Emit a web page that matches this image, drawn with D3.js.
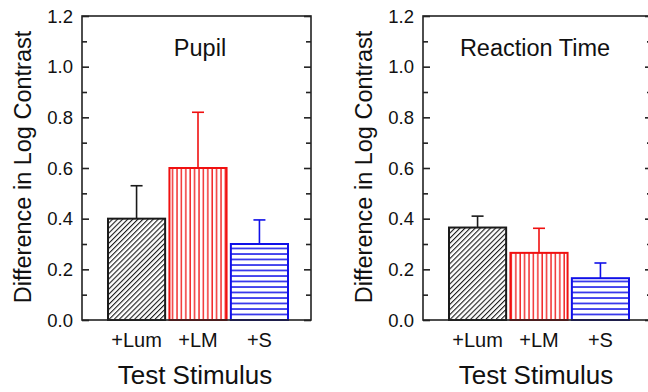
<!DOCTYPE html>
<html><head><meta charset="utf-8">
<script src="https://cdn.jsdelivr.net/npm/d3@7"></script>
<style>body{margin:0;background:#fff}svg{display:block}text{font-family:"Liberation Sans",Arial,sans-serif;fill:#111}</style>
</head><body><svg id="c" width="648" height="392"></svg>
<script>
const categories = ["+Lum", "+LM", "+S"];
const panelTitles = ["Pupil", "Reaction Time"];
const pupilValues = [0.40, 0.60, 0.30];
const pupilErrors = [0.13, 0.22, 0.095];
const rtValues = [0.365, 0.265, 0.165];
const rtErrors = [0.045, 0.097, 0.06];
const yTicks = [0.0, 0.2, 0.4, 0.6, 0.8, 1.0, 1.2];
const yMinorTicks = [0.1, 0.3, 0.5, 0.7, 0.9, 1.1];
const colors = ["#1a1a1a", "#f01010", "#1010e8"];
const xTitle = "Test Stimulus";
const yTitle = "Difference in Log Contrast";

const svg = d3.select("#c");
const defs = svg.append("defs");
const p0 = defs.append("pattern").attr("id","pat0").attr("patternUnits","userSpaceOnUse")
  .attr("width",3.6).attr("height",3.6).attr("patternTransform","rotate(45)");
p0.append("rect").attr("width",3.6).attr("height",3.6).attr("fill","#fff");
p0.append("line").attr("x1",0).attr("y1",0).attr("x2",0).attr("y2",3.6).attr("stroke",colors[0]).attr("stroke-width",2.2);
const p1 = defs.append("pattern").attr("id","pat1").attr("patternUnits","userSpaceOnUse")
  .attr("width",4.4).attr("height",10);
p1.append("rect").attr("width",4.4).attr("height",10).attr("fill","#fff");
p1.append("line").attr("x1",1).attr("y1",0).attr("x2",1).attr("y2",10).attr("stroke",colors[1]).attr("stroke-width",1.3);
const p2 = defs.append("pattern").attr("id","pat2").attr("patternUnits","userSpaceOnUse")
  .attr("width",10).attr("height",5.5);
p2.append("rect").attr("width",10).attr("height",5.5).attr("fill","#fff");
p2.append("line").attr("x1",0).attr("y1",1).attr("x2",10).attr("y2",1).attr("stroke",colors[2]).attr("stroke-width",1.5);

const plotTop = 16, plotBottom = 320, pw = 229;
const y = d3.scaleLinear().domain([0,1.2]).range([plotBottom, plotTop]);

function panel(x0, title, vals, errs, titleX) {
  const g = svg.append("g");
  const x = d3.scaleBand().domain(categories).range([x0+26, x0+206]).paddingInner(0.07).paddingOuter(0);
  categories.forEach((c,i)=>{
    const bx = x(c), bw = x.bandwidth();
    g.append("rect").attr("x",bx).attr("y",y(vals[i])).attr("width",bw).attr("height",y(0)-y(vals[i]))
      .attr("fill",`url(#pat${i})`).attr("stroke",colors[i]).attr("stroke-width",2);
    const cx = bx + bw/2;
    g.append("line").attr("x1",cx).attr("x2",cx).attr("y1",y(vals[i])).attr("y2",y(vals[i]+errs[i]))
      .attr("stroke",colors[i]).attr("stroke-width",1.6);
    g.append("line").attr("x1",cx-6).attr("x2",cx+6).attr("y1",y(vals[i]+errs[i])).attr("y2",y(vals[i]+errs[i]))
      .attr("stroke",colors[i]).attr("stroke-width",1.6);
    g.append("text").attr("x",cx).attr("y",347).attr("text-anchor","middle").attr("font-size",20).text(c);
  });
  g.append("rect").attr("x",x0).attr("y",plotTop).attr("width",pw).attr("height",plotBottom-plotTop)
    .attr("fill","none").attr("stroke","#222").attr("stroke-width",1.6);
  const la = d3.axisRight(y).tickValues(yTicks).tickSize(7).tickFormat("");
  const lm = d3.axisRight(y).tickValues(yMinorTicks).tickSize(5).tickFormat("");
  const ra = d3.axisLeft(y).tickValues(yTicks).tickSize(7).tickFormat("");
  const rm = d3.axisLeft(y).tickValues(yMinorTicks).tickSize(5).tickFormat("");
  [[la,x0],[lm,x0],[ra,x0+pw],[rm,x0+pw]].forEach(([a,xx])=>{
    const ag = g.append("g").attr("transform",`translate(${xx},0)`).call(a);
    ag.select(".domain").remove();
    ag.selectAll("line").attr("stroke","#222").attr("stroke-width",1.6);
  });
  yTicks.forEach(t=>{
    g.append("text").attr("x",x0-9).attr("y",y(t)).attr("dy","0.36em").attr("text-anchor","end")
      .attr("font-size",18.5).text(d3.format(".1f")(t));
  });
  g.append("text").attr("x",titleX).attr("y",56).attr("text-anchor","middle").attr("font-size",23.5).text(title);
  g.append("text").attr("x",x0+113).attr("y",384).attr("text-anchor","middle").attr("font-size",26).text(xTitle);
  g.append("text").attr("transform",`translate(${x0-59},167) rotate(-90)`).attr("dy","0.35em")
    .attr("text-anchor","middle").attr("font-size",23.5).text(yTitle);
}
panel(82, panelTitles[0], pupilValues, pupilErrors, 200);
panel(423, panelTitles[1], rtValues, rtErrors, 535);
</script></body></html>
